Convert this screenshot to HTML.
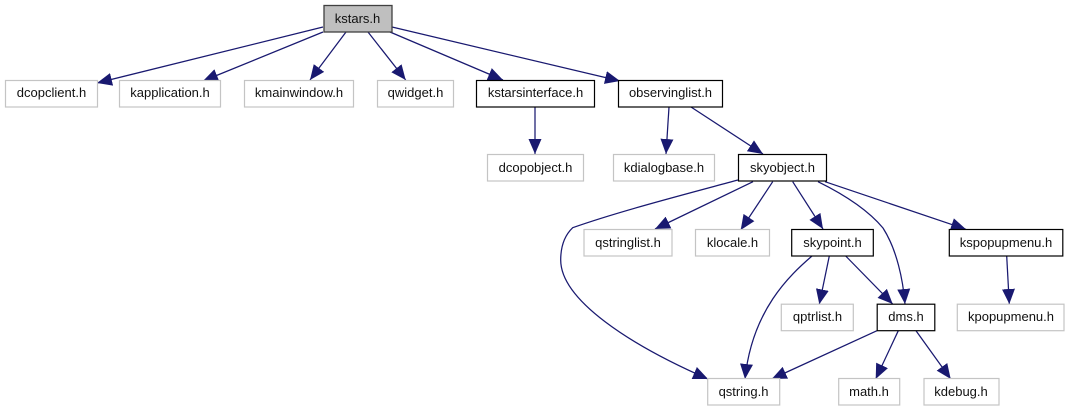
<!DOCTYPE html>
<html><head><meta charset="utf-8"><style>
html,body{margin:0;padding:0;background:#fff}
svg{display:block}
text{font-family:"Liberation Sans",sans-serif;font-size:13px;text-anchor:middle;fill:#111}
.g{fill:#fff;stroke:#c4c4c4;stroke-width:1.2}
.b{fill:#fff;stroke:#000;stroke-width:1.2}
.e{fill:none;stroke:#191970;stroke-width:1.25;marker-end:url(#a)}
</style></head><body>
<svg width="1069" height="411" viewBox="0 0 1069 411" xmlns="http://www.w3.org/2000/svg">
<defs><marker id="a" markerUnits="userSpaceOnUse" markerWidth="17" markerHeight="15" refX="15" refY="7" orient="auto"><path d="M0,0.5 L15,7 L0,13.5 Z" fill="#191970"/></marker></defs>
<path class="e" d="M323,27 L97,83"/>
<path class="e" d="M323,32 L203,81"/>
<path class="e" d="M346,32 L310,80"/>
<path class="e" d="M368,32 L405.7,80"/>
<path class="e" d="M390,32 L503,80"/>
<path class="e" d="M392,27 L620,81"/>
<path class="e" d="M535,107 L535,154"/>
<path class="e" d="M669,107 L666,154"/>
<path class="e" d="M691,107 L763,154"/>
<path class="e" d="M753,181.7 L655,229"/>
<path class="e" d="M772.7,181.7 L740.7,230"/>
<path class="e" d="M792.7,181.7 L823,229"/>
<path class="e" d="M818,181.7 C845,195 868,210 883,228 C897,250 903,280 905,304"/>
<path class="e" d="M825,181.7 L966,229.3"/>
<path class="e" d="M738,180 C690,193 620,211 572.7,227.7 C564,236 560.7,248 560.7,260 C560.7,300 630,345 708,379"/>
<path class="e" d="M812,256 C790,275 752,310 745,379"/>
<path class="e" d="M829.3,256 L819.3,304.3"/>
<path class="e" d="M845.7,256 L892.7,304"/>
<path class="e" d="M1006.7,256 L1009.3,304"/>
<path class="e" d="M877,330.7 L771.7,379"/>
<path class="e" d="M898.3,330.7 L875.7,379"/>
<path class="e" d="M916,330.7 L950.7,379"/>
<rect x="324" y="5.5" width="68" height="26.5" fill="#bfbfbf" stroke="#404040" stroke-width="1.3"/><text x="357.5" y="23">kstars.h</text>
<rect class="g" x="5.5" y="80.5" width="92" height="26.5"/><text x="51.5" y="97">dcopclient.h</text>
<rect class="g" x="119.5" y="80.5" width="101" height="26.5"/><text x="170" y="97">kapplication.h</text>
<rect class="g" x="244.5" y="80.5" width="109" height="26.5"/><text x="299" y="97">kmainwindow.h</text>
<rect class="g" x="377.5" y="80.5" width="76" height="26.5"/><text x="415.5" y="97">qwidget.h</text>
<rect class="b" x="476.5" y="80.5" width="118" height="26.5"/><text x="535.5" y="97">kstarsinterface.h</text>
<rect class="b" x="618.5" y="80.5" width="104" height="26.5"/><text x="670.5" y="97">observinglist.h</text>
<rect class="g" x="487.5" y="154.5" width="96" height="26.5"/><text x="535.5" y="172">dcopobject.h</text>
<rect class="g" x="613.5" y="154.5" width="101" height="26.5"/><text x="664" y="172">kdialogbase.h</text>
<rect class="b" x="738.5" y="154.5" width="88" height="26.5"/><text x="782.5" y="172">skyobject.h</text>
<rect class="g" x="584" y="229.5" width="88" height="26.5"/><text x="628" y="247">qstringlist.h</text>
<rect class="g" x="695.5" y="229.5" width="74" height="26.5"/><text x="732.5" y="247">klocale.h</text>
<rect class="b" x="791.7" y="229.5" width="81.6" height="26.5"/><text x="832.5" y="247">skypoint.h</text>
<rect class="b" x="949.3" y="229.5" width="113.5" height="26.5"/><text x="1006" y="247">kspopupmenu.h</text>
<rect class="g" x="781.3" y="304.2" width="72" height="26.5"/><text x="817.5" y="321">qptrlist.h</text>
<rect class="b" x="877.2" y="304.2" width="57.6" height="26.5"/><text x="906" y="321">dms.h</text>
<rect class="g" x="957.3" y="304.2" width="106.7" height="26.5"/><text x="1011" y="321">kpopupmenu.h</text>
<rect class="g" x="707.7" y="378.5" width="72" height="26.5"/><text x="743.5" y="396">qstring.h</text>
<rect class="g" x="838.7" y="378.5" width="61" height="26.5"/><text x="869" y="396">math.h</text>
<rect class="g" x="924" y="378.5" width="75" height="26.5"/><text x="961" y="396">kdebug.h</text>
</svg>
</body></html>
